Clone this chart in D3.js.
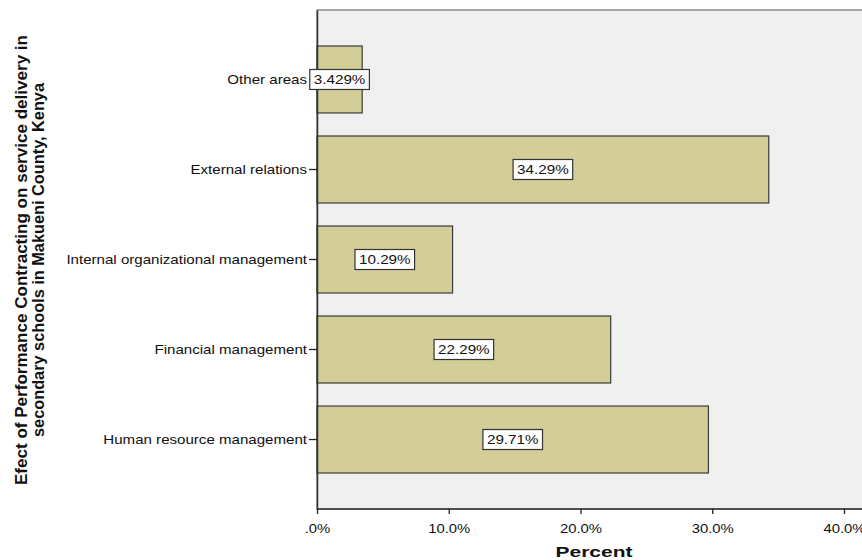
<!DOCTYPE html>
<html>
<head>
<meta charset="utf-8">
<script src="https://cdn.jsdelivr.net/npm/d3@7"></script>
<style>
body { margin: 0; background: #fff; }
text { font-family: "Liberation Sans", Arial, sans-serif; }
</style>
</head>
<body>
<div id="chart"></div>
<script>
var categories = ['Other areas', 'External relations', 'Internal organizational management', 'Financial management', 'Human resource management'];
var percents = [3.429, 34.29, 10.29, 22.29, 29.71];
var valueLabels = ['3.429%', '34.29%', '10.29%', '22.29%', '29.71%'];
var xTicks = [0, 10, 20, 30, 40];
var xTickLabels = ['.0%', '10.0%', '20.0%', '30.0%', '40.0%'];

var width = 862, height = 560;
var plotLeft = 317, plotTop = 10, plotBottom = 509;

// the original picture is a little wider than its fonts: stretch texts sideways
function stretch(sel, f) {
	sel.each(function() {
		var w = this.getComputedTextLength();
		d3.select(this).attr('textLength', w * f).attr('lengthAdjust', 'spacingAndGlyphs');
	});
}

var svg = d3.select('#chart').append('svg')
	.attr('width', width)
	.attr('height', height);

var x = d3.scaleLinear().domain([0, 40]).range([plotLeft, 844]);
var y = d3.scaleBand().domain(categories).range([plotTop, plotBottom])
	.paddingInner(0.256).paddingOuter(0.4);

// plot background
svg.append('rect')
	.attr('x', plotLeft).attr('y', plotTop)
	.attr('width', width - plotLeft + 10).attr('height', plotBottom - plotTop)
	.attr('fill', '#f0f0f0')
	.attr('stroke', '#555').attr('stroke-width', 1);

// bars
svg.selectAll('.bar')
	.data(percents)
	.enter()
		.append('rect')
			.attr('class', 'bar')
			.attr('x', x(0))
			.attr('y', function(d, i) { return y(categories[i]); })
			.attr('width', function(d) { return x(d) - x(0); })
			.attr('height', y.bandwidth())
			.attr('fill', '#d3ce97')
			.attr('stroke', '#3a3a3a')
			.attr('stroke-width', 1.2);

// y axis
var yAxis = d3.axisLeft(y).tickSize(8).tickSizeOuter(0).tickPadding(2);
var gy = svg.append('g')
	.attr('transform', 'translate(' + plotLeft + ',0)')
	.call(yAxis);
gy.select('.domain').attr('stroke', '#333').attr('stroke-width', 1.5);
gy.selectAll('.tick line').attr('stroke', '#222').attr('stroke-width', 1.3);
gy.selectAll('.tick text')
	.attr('font-size', 13)
	.attr('font-family', '"Liberation Sans", Arial, sans-serif')
	.attr('fill', '#111')
	.call(stretch, 1.16);

// value labels
var lab = svg.selectAll('.lab')
	.data(percents)
	.enter()
		.append('g')
			.attr('class', 'lab')
			.attr('transform', function(d, i) {
				return 'translate(' + ((x(0) + x(d)) / 2) + ',' + (y(categories[i]) + y.bandwidth() / 2) + ')';
			});

lab.append('text')
	.attr('text-anchor', 'middle')
	.attr('dy', '0.36em')
	.attr('font-size', 13)
	.attr('fill', '#111')
	.text(function(d, i) { return valueLabels[i]; })
	.call(stretch, 1.17)
	.each(function() {
		var w = +d3.select(this).attr('textLength');
		d3.select(this.parentNode).insert('rect', 'text')
			.attr('x', -w / 2 - 4).attr('y', -10)
			.attr('width', w + 8).attr('height', 20)
			.attr('fill', '#fff')
			.attr('stroke', '#333').attr('stroke-width', 1.2);
	});

// x axis
var xAxis = d3.axisBottom(x).tickValues(xTicks)
	.tickFormat(function(d, i) { return xTickLabels[i]; })
	.tickSize(5).tickPadding(9);
var gx = svg.append('g')
	.attr('transform', 'translate(0,' + plotBottom + ')')
	.call(xAxis);
gx.select('.domain').attr('d', 'M' + plotLeft + ',0H' + (width + 5)).attr('stroke', '#333').attr('stroke-width', 1.5);
gx.selectAll('.tick line').attr('stroke', '#222').attr('stroke-width', 1.3);
gx.selectAll('.tick text')
	.attr('font-size', 13.5)
	.attr('font-family', '"Liberation Sans", Arial, sans-serif')
	.attr('fill', '#111')
	.call(stretch, 1.1);

// axis titles
svg.append('text')
	.attr('x', 594).attr('y', 557)
	.attr('text-anchor', 'middle')
	.attr('font-size', 15.5).attr('font-weight', 'bold')
	.attr('fill', '#111')
	.attr('textLength', 77).attr('lengthAdjust', 'spacingAndGlyphs')
	.text('Percent');

var yt = svg.append('text')
	.attr('transform', 'translate(27,260) rotate(-90)')
	.attr('text-anchor', 'middle')
	.attr('font-size', 16).attr('font-weight', 'bold')
	.attr('fill', '#111');
yt.append('tspan').attr('x', 0).attr('dy', 0)
	.attr('textLength', 450).attr('lengthAdjust', 'spacingAndGlyphs')
	.text('Efect of Performance Contracting on service delivery in');
yt.append('tspan').attr('x', 0).attr('dy', 17)
	.attr('textLength', 354).attr('lengthAdjust', 'spacingAndGlyphs')
	.text('secondary schools in Makueni County, Kenya');
</script>
</body>
</html>
